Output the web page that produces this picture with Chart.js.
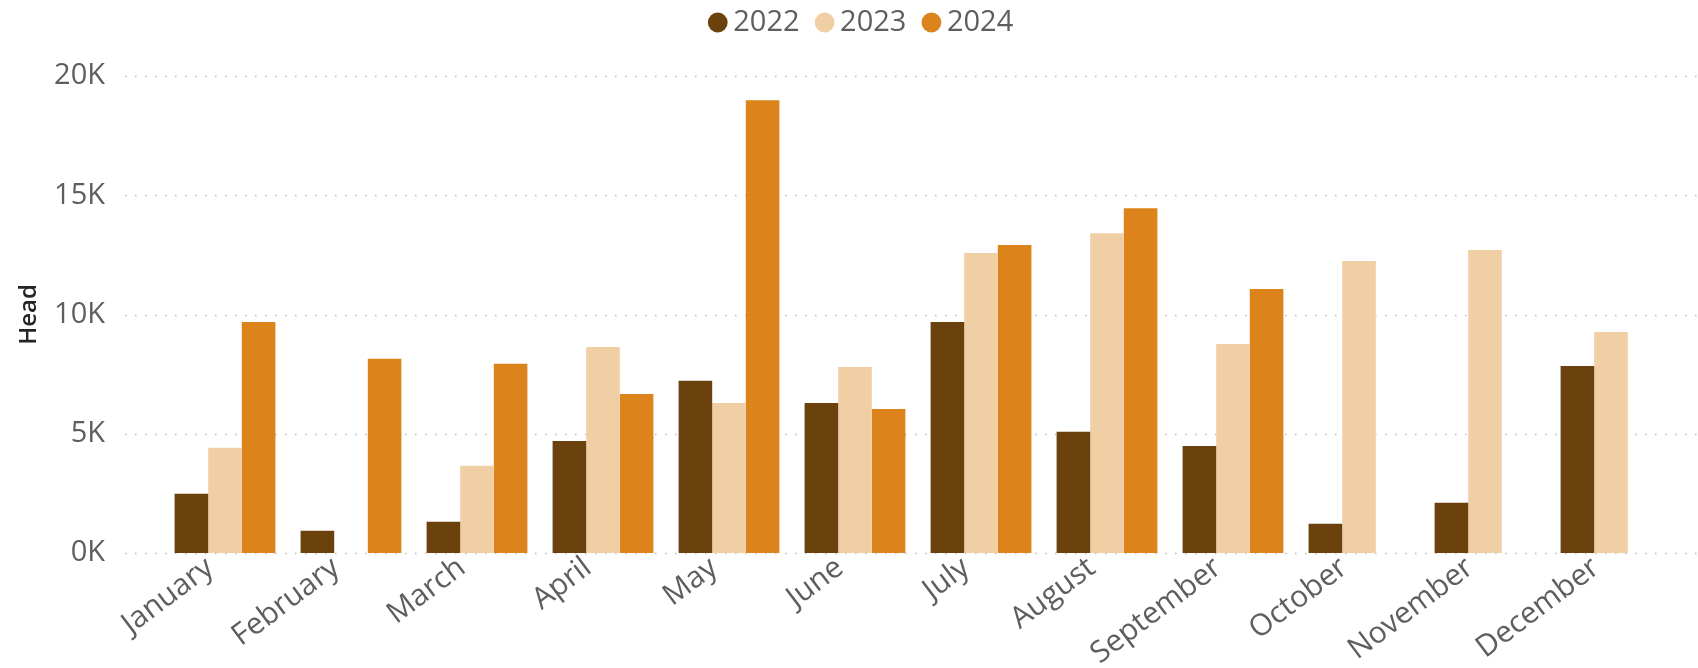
<!DOCTYPE html>
<html>
<head>
<meta charset="utf-8">
<script src="https://cdn.jsdelivr.net/npm/chart.js@4.4.1/dist/chart.umd.min.js"></script>
<style>
    body { margin: 0; background: #fff; }
    #wrap { width: 1698px; height: 668px; position: relative; }
</style>
</head>
<body>
<div id="wrap"><canvas id="headChart"></canvas></div>
<script>
// data
const months = ['January', 'February', 'March', 'April', 'May', 'June', 'July', 'August', 'September', 'October', 'November', 'December'];
const years = ['2022', '2023', '2024'];
const head2022 = [2480, 930, 1310, 4700, 7220, 6290, 9690, 5080, 4490, 1230, 2110, 7840];
const head2023 = [4410, null, 3660, 8640, 6290, 7800, 12580, 13410, 8760, 12240, 12700, 9270];
const head2024 = [9690, 8140, 7930, 6670, 18980, 6040, 12910, 14460, 11070, null, null, null];
const yTicks = [0, 5000, 10000, 15000, 20000];
const yTickLabels = ['0K', '5K', '10K', '15K', '20K'];

const colors = ['#6B410E', '#F1CFA5', '#DC831B'];
const textGrey = '#605E5C';
const fontFamily = '"Open Sans", "Noto Sans", sans-serif';

// dotted horizontal gridlines, they run wider than the category band
const dottedGrid = {
    id: 'dottedGrid',
    beforeDatasetsDraw(chart) {
        const ctx = chart.ctx;
        const y = chart.scales.y;
        ctx.save();
        ctx.strokeStyle = '#BDBDBD';
        ctx.lineWidth = 1.5;
        ctx.setLineDash([1.5, 8.5]);
        yTicks.forEach(function (v) {
            const py = Math.round(y.getPixelForValue(v)) + 0.5;
            ctx.beginPath();
            ctx.moveTo(125, py);
            ctx.lineTo(chart.width, py);
            ctx.stroke();
        });
        ctx.restore();
    }
};

// make the legend box tall enough that the plot starts at the 20K line
const legendHeight = {
    id: 'legendHeight',
    beforeInit(chart) {
        const fit = chart.legend.fit;
        chart.legend.fit = function () {
            fit.bind(chart.legend)();
            this.height = 76;
        };
    },
    beforeDraw(chart) {
        // nudge the legend so it sits like the original
        chart.legend.left = 28;
        chart.legend.right = 1702;
        chart.legend.top = -16;
    }
};

new Chart(document.getElementById('headChart'), {
    type: 'bar',
    data: {
        labels: months,
        datasets: [
            { label: years[0], data: head2022, backgroundColor: colors[0] },
            { label: years[1], data: head2023, backgroundColor: colors[1] },
            { label: years[2], data: head2024, backgroundColor: colors[2] }
        ]
    },
    options: {
        responsive: true,
        maintainAspectRatio: false,
        animation: false,
        devicePixelRatio: 1,
        layout: { padding: { left: 0, right: 24, top: 0, bottom: 0 } },
        datasets: {
            bar: { categoryPercentage: 0.8, barPercentage: 1.0, borderWidth: 0 }
        },
        plugins: {
            tooltip: { enabled: false },
            legend: {
                position: 'top',
                align: 'center',
                labels: {
                    usePointStyle: true,
                    pointStyle: 'circle',
                    boxWidth: 2,
                    boxHeight: 14,
                    padding: 24,
                    color: textGrey,
                    font: { family: fontFamily, size: 29 }
                }
            }
        },
        scales: {
            x: {
                grid: { display: false, drawTicks: false },
                border: { display: false },
                ticks: {
                    color: textGrey,
                    font: { family: fontFamily, size: 30 },
                    minRotation: 37,
                    maxRotation: 37,
                    autoSkip: false,
                    padding: -3,
                    labelOffset: -15
                },
                afterFit(s) { s.height = 115; }
            },
            y: {
                min: 0,
                max: 20000,
                grid: { display: false, drawTicks: false },
                border: { display: false },
                afterBuildTicks(s) { s.ticks = yTicks.map(v => ({ value: v })); },
                ticks: {
                    color: textGrey,
                    font: { family: fontFamily, size: 29 },
                    padding: 57,
                    callback: function (value) {
                        return yTickLabels[yTicks.indexOf(value)];
                    }
                },
                title: {
                    display: true,
                    text: 'Head',
                    color: '#252423',
                    font: { family: fontFamily, size: 24, weight: '600' },
                    padding: { top: 15, bottom: 0 }
                },
                afterFit(s) { s.width = 162; }
            }
        }
    },
    plugins: [dottedGrid, legendHeight]
});
</script>
</body>
</html>
